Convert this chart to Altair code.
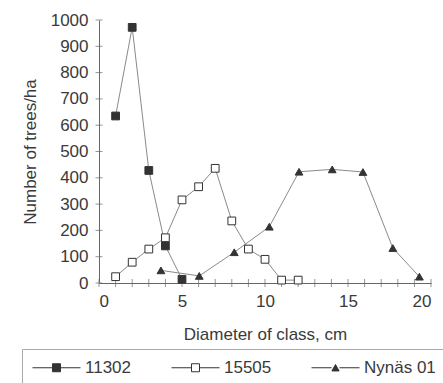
import altair as alt
import pandas as pd

# ---- data ----
x_11302 = [1, 2, 3, 4, 5]
y_11302 = [635, 972, 428, 141, 14]

x_15505 = [1, 2, 3, 4, 5, 6, 7, 8, 9, 10, 11, 12]
y_15505 = [24, 79, 129, 172, 316, 366, 436, 236, 129, 90, 11, 11]

x_nynas = [3.73, 6.04, 8.15, 10.26, 12.05, 14.05, 15.9, 17.7, 19.3]
y_nynas = [48, 27, 117, 214, 423, 432, 422, 133, 24]

series_names = ["11302", "15505", "Nynäs 01"]
x_ticks = list(range(0, 21))
y_ticks = list(range(0, 1001, 100))
x_labels = [0, 5, 10, 15, 20]

rows = []
for name, xs, ys in [(series_names[0], x_11302, y_11302),
                     (series_names[1], x_15505, y_15505),
                     (series_names[2], x_nynas, y_nynas)]:
    for a, b in zip(xs, ys):
        rows.append({"series": name, "x": a, "y": b})
df = pd.DataFrame(rows)

xtick_df = pd.DataFrame({"x": x_ticks, "y": [0] * len(x_ticks)})
ytick_df = pd.DataFrame({"y": y_ticks, "x": [0] * len(y_ticks)})

FONT = "Liberation Sans"
TXT = "#3a3a3a"
INK = "#333333"
LINE = "#8a8a8a"

xscale = alt.Scale(domain=[0, 20], nice=False, zero=False)
yscale = alt.Scale(domain=[0, 1000], nice=False)
xaxis = alt.Axis(title="Diameter of class, cm", values=x_labels, ticks=False,
                 grid=False, labelPadding=10, titlePadding=17, format="d")
yaxis = alt.Axis(title="Number of trees/ha", values=y_ticks, ticks=False,
                 grid=False, labelPadding=11, titlePadding=11, format="d")

X = alt.X("x:Q", scale=xscale, axis=xaxis)
Y = alt.Y("y:Q", scale=yscale, axis=yaxis)

lines = alt.Chart(df).mark_line(color=LINE, strokeWidth=1).encode(
    x=X, y=Y, detail="series:N")

points = alt.Chart(df).mark_point(stroke=INK, strokeWidth=1, opacity=1,
                                  size=60).encode(
    x=X, y=Y,
    shape=alt.Shape("series:N", scale=alt.Scale(
        domain=series_names, range=["square", "square", "triangle-up"]),
        legend=None),
    fill=alt.Fill("series:N", scale=alt.Scale(
        domain=series_names, range=[INK, "white", INK]), legend=None),
)

sq = "M-6,0H-1M1,0H6M-1,-1H1V1H-1Z"
tri = "M-6,0H-1M1,0H6M0,-0.8L0.9,0.8H-0.9Z"
legend_layer = alt.Chart(df).transform_filter("false").mark_point(
    strokeWidth=1, opacity=1, size=64).encode(
    x=X, y=Y,
    shape=alt.Shape("series:N", scale=alt.Scale(
        domain=series_names, range=[sq, sq, tri]),
        legend=alt.Legend(title=None)),
    fill=alt.Fill("series:N", scale=alt.Scale(
        domain=series_names, range=[INK, "white", INK]),
        legend=alt.Legend(title=None)),
    stroke=alt.Stroke("series:N", scale=alt.Scale(
        domain=series_names, range=[INK, INK, INK]),
        legend=alt.Legend(title=None)),
)

xt = alt.Chart(xtick_df).mark_tick(orient="vertical", size=8, thickness=1,
                                   color="#666666").encode(x=X, y=Y)
yt = alt.Chart(ytick_df).mark_tick(orient="horizontal", size=7, thickness=1,
                                   color="#666666").encode(x=X, y=Y)

chart = alt.layer(xt, yt, lines, points, legend_layer).resolve_scale(
    shape="independent", fill="independent", stroke="independent"
).properties(
    width=332, height=263,
    padding={"left": 99, "top": 20, "right": 12, "bottom": 100},
    autosize=alt.AutoSizeParams(type="none"),
).configure_view(stroke=None).configure_axis(
    labelFont=FONT, titleFont=FONT, labelFontSize=17, titleFontSize=17,
    labelColor=TXT, titleColor=TXT, titleFontWeight="normal",
    domainColor="#666666", domainWidth=1,
).configure_legend(
    orient="none", legendX=-77, legendY=329, direction="horizontal",
    strokeColor="#aaaaaa", padding=10, labelFont=FONT, labelFontSize=17,
    labelColor=TXT, symbolStrokeWidth=1, symbolOffset=16,
    labelOffset=20, columnPadding=37, symbolSize=64,
)

chart.save("out.html", embed_options={"renderer": "svg", "actions": False})
